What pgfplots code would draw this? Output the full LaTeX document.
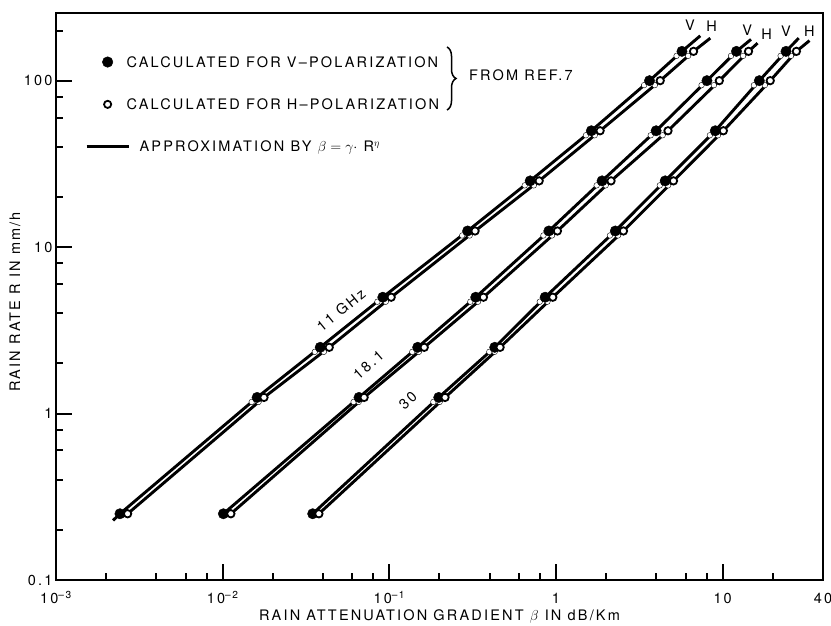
\documentclass[border=0pt]{standalone}
\usepackage{fontspec}
\setmainfont[LetterSpace=15]{TeX Gyre Heros}
\usepackage{pgfplots}
\pgfplotsset{compat=1.18}
\usepackage{pgfplotstable}
\usetikzlibrary{decorations.pathreplacing}

% 11 GHz: rain rate R, attenuation for V and H polarization
\pgfplotstableread{
R V H
0.25 0.00242 0.00269
1.25 0.0161 0.0177
2.5 0.0385 0.0436
5 0.0914 0.1026
12.5 0.295 0.327
25 0.700 0.793
50 1.63 1.84
100 3.64 4.22
150 5.70 6.69
}\fA
% 18.1 GHz
\pgfplotstableread{
R V H
0.25 0.0101 0.0112
1.25 0.0658 0.0706
2.5 0.148 0.162
5 0.330 0.367
12.5 0.906 1.02
25 1.89 2.14
50 3.99 4.70
100 8.05 9.55
150 12.1 14.3
}\fB
% 30 GHz
\pgfplotstableread{
R V H
0.25 0.0347 0.0378
1.25 0.198 0.216
2.5 0.429 0.462
5 0.861 0.957
12.5 2.27 2.54
25 4.52 5.07
50 9.03 10.1
100 16.6 19.3
150 24.0 27.7
}\fC

\newcommand{\fs}{\fontsize{14.5}{17}\selectfont}

\begin{document}
\begin{tikzpicture}[font=\fs]
\begin{axis}[
  at={(0,0)}, anchor=south west,
  scale only axis, width=767pt, height=567pt,
  xmode=log, ymode=log,
  xmin=0.001, xmax=40, ymin=0.1, ymax=255,
  axis line style={line width=2.4pt},
  xtick={0.001,0.01,0.1,1,10,40},
  xticklabels={10\textsuperscript{--3},10\textsuperscript{--2},10\textsuperscript{--1},1,10,40},
  ytick={0.1,1,10,100},
  yticklabels={0.1,1,10,100},
  minor xtick={0.002,0.004,0.006,0.008,0.02,0.04,0.06,0.08,0.2,0.4,0.6,0.8,2,4,6,8,20},
  minor ytick={0.2,0.4,0.6,0.8,2,4,6,8,20,40,60,80,200},
  tick align=inside, tick pos=left,
  major tick length=16pt, minor tick length=7.5pt,
  every tick/.style={black, line width=2pt},
  xticklabel style={anchor=base, yshift=-24pt},
  yticklabel style={anchor=east},
  tick label style={font=\fs},
  xlabel={RAIN ATTENUATION GRADIENT $\beta$ IN dB/Km},
  ylabel={RAIN RATE R IN mm/h},
  every axis x label/.style={at={(axis description cs:0.5,0)}, anchor=base, yshift=-41pt, font=\fs},
  every axis y label/.style={at={(axis description cs:-0.0535,0.4903)}, rotate=90, anchor=center, font=\fs},
  legend image code/.code={%
    \path[draw=none, fill=none] (-1.3pt,5pt) -- (51pt,5pt);
    \draw[#1] (0pt,5pt) -- (42pt,5pt);},
  legend style={at={(axis description cs:0,1)}, anchor=north west, xshift=29pt, yshift=-41pt,
    draw=none, fill=none, inner sep=0pt, row sep=26pt, font=\fs,
    nodes={inner sep=2pt, anchor=base west}},
  legend cell align=left,
  apl/.style={forget plot, black, line width=2.9pt, line join=round},
  halo/.style={forget plot, only marks, mark=*, mark size=2.8pt,
    mark options={draw=none, fill=white, xshift=-5.4pt, yshift=-4.5pt},
    skip coords between index={0}{1}},
  vdot/.style={forget plot, only marks, mark=*, mark size=5.2pt, black},
  hdot/.style={forget plot, only marks, mark=*, mark size=3.7pt,
    mark options={fill=white, draw=black, line width=1.8pt}},
]
\addlegendimage{legend image code/.code={\path[draw=none, fill=none] (-1.3pt,5pt) -- (51pt,5pt); \fill[black] (21pt,5pt) circle (5.3pt);}}
\addlegendentry{\hspace*{-13pt}CALCULATED FOR V--POLARIZATION}
\addlegendimage{legend image code/.code={\path[draw=none, fill=none] (-1.3pt,5pt) -- (51pt,5pt); \draw[black, fill=white, line width=1.8pt] (21pt,5pt) circle (3.6pt);}}
\addlegendentry{\hspace*{-13pt}CALCULATED FOR H--POLARIZATION}
\addlegendimage{black, line width=2.9pt}
\addlegendentry{APPROXIMATION BY \smash{$\beta = \gamma \cdot$ R$^{\eta}$}}

% approximation lines
\addplot[apl] table[x=V,y=R]{\fA};
\addplot[apl] table[x=H,y=R]{\fA};
\addplot[apl] table[x=V,y=R]{\fB};
\addplot[apl] table[x=H,y=R]{\fB};
\addplot[apl] table[x=V,y=R]{\fC};
\addplot[apl] table[x=H,y=R]{\fC};
% line ends
\addplot[apl] coordinates {(0.0022,0.228) (0.00242,0.25)};
\addplot[apl] coordinates {(5.70,150) (7.34,186)};
\addplot[apl] coordinates {(6.69,150) (8.43,180)};
\addplot[apl] coordinates {(12.1,150) (14.8,177)};
\addplot[apl] coordinates {(14.3,150) (16.2,168)};
\addplot[apl] coordinates {(24.0,150) (28.6,180)};
\addplot[apl] coordinates {(27.7,150) (33.2,174)};
% gaps in the lines just below the points
\addplot[halo] table[x=V,y=R]{\fA};
\addplot[halo] table[x=H,y=R]{\fA};
\addplot[halo] table[x=V,y=R]{\fB};
\addplot[halo] table[x=H,y=R]{\fB};
\addplot[halo] table[x=V,y=R]{\fC};
\addplot[halo] table[x=H,y=R]{\fC};
% calculated points
\addplot[vdot] table[x=V,y=R]{\fA};
\addplot[vdot] table[x=V,y=R]{\fB};
\addplot[vdot] table[x=V,y=R]{\fC};
\addplot[hdot] table[x=H,y=R]{\fA};
\addplot[hdot] table[x=H,y=R]{\fB};
\addplot[hdot] table[x=H,y=R]{\fC};
\end{axis}

\draw[decorate, decoration={brace, amplitude=9pt}, line width=1.5pt] (391pt,533pt) -- (391pt,470pt);
\node[anchor=west, inner sep=0pt] at (413pt,505pt) {FROM REF.7};

\node at (634pt,555pt) {V};
\node at (655.7pt,553.3pt) {H};
\node at (691.3pt,550pt) {V};
\node at (710.7pt,546pt) {H};
\node at (730pt,548.3pt) {V};
\node at (753.3pt,548.3pt) {H};

\node[rotate=39] at (285pt,270pt) {11 GHz};
\node[rotate=41] at (312.5pt,215pt) {18.1};
\node[rotate=43] at (352pt,179pt) {30};

\pgfresetboundingbox
\path[use as bounding box] (-56pt,-46pt) rectangle (775pt,580pt);
\end{tikzpicture}
\end{document}
